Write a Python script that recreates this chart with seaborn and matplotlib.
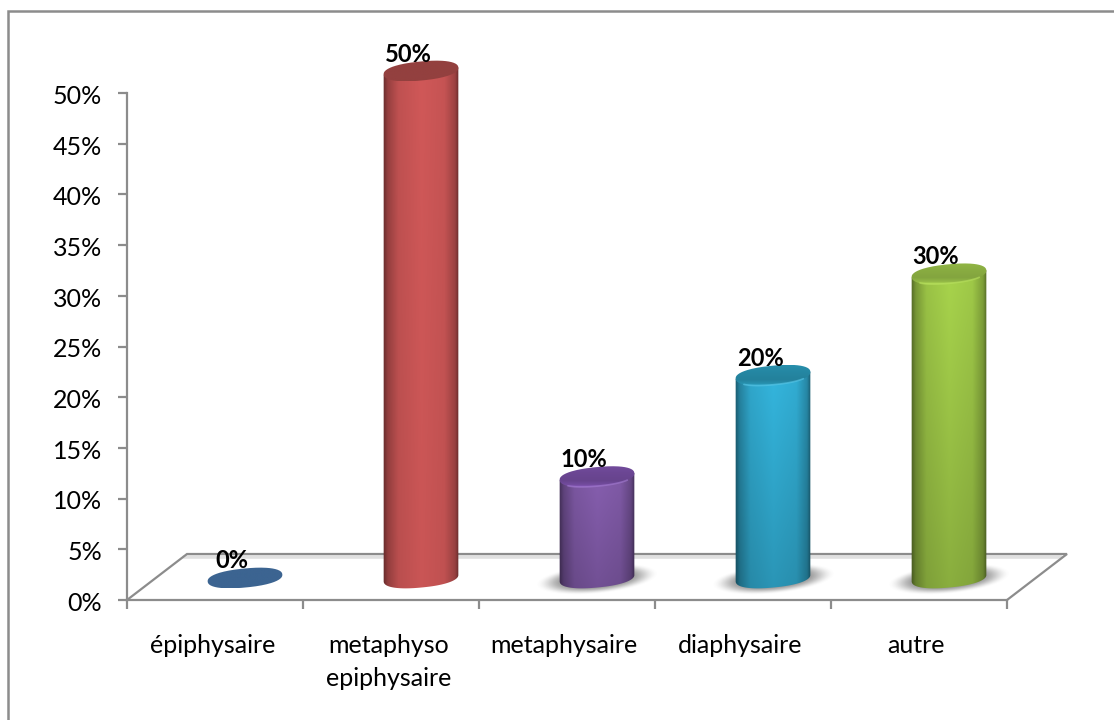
import numpy as np
import pandas as pd
import matplotlib
matplotlib.use("Agg")
import matplotlib.pyplot as plt
from matplotlib.lines import Line2D
from matplotlib.path import Path
from matplotlib.transforms import ScaledTranslation
import seaborn as sns

categories = ["épiphysaire", "metaphyso\nepiphysaire", "metaphysaire", "diaphysaire", "autre"]
values = [0, 50, 10, 20, 30]
bar_colors = ["#3c6491", "#d05858", "#875fb0", "#34b6de", "#a8d44c"]
cap_colors = ["#3c6491", "#93403f", "#694590", "#24849f", "#86a840"]
rim_colors = [None, None, "#a57dd2", "#5cc8e8", "#b9e15f"]
foot_shades = [1, 0.97, 0.84, 0.82, 0.82]
has_shadow = [False, False, True, True, True]
y_ticks = [0, 5, 10, 15, 20, 25, 30, 35, 40, 45, 50]

GRAY = "#8c8c8c"
W, H = 1114, 720
LEFT, RIGHT, TOP, BOTTOM = 127, 1007, 93, 600  # plot area in pixels
DEPTH_X, DEPTH_Y = 60, 46                       # oblique floor depth in pixels
A, B, TILT = 37.5, 9.5, np.deg2rad(5.5)          # cylinder cross-section ellipse

sns.set_theme(style="white")
plt.rcParams["font.family"] = ["Lato", "DejaVu Sans"]

fig = plt.figure(figsize=(W / 100, H / 100), dpi=100, facecolor="white")
ax = fig.add_axes([LEFT / W, 1 - BOTTOM / H, (RIGHT - LEFT) / W, (BOTTOM - TOP) / H])
ax.patch.set_alpha(0)

# Chart frame: only its top and left edges fall inside the figure
fig.add_artist(Line2D([1, 8 / W, 8 / W], [1 - 11 / H, 1 - 11 / H, 0],
                      transform=fig.transFigure, color=GRAY, lw=1.8, solid_joinstyle="miter"))

px_x = 5 / (RIGHT - LEFT)      # data units per horizontal pixel
px_y = 50 / (BOTTOM - TOP)     # data units per vertical pixel
shift = (DEPTH_X / 2) * px_x
base = 22 * px_y

frame = pd.DataFrame({"pos": np.arange(len(values)) + shift, "value": values, "cat": categories})
sns.barplot(data=frame, x="pos", y="value", hue="cat", hue_order=categories,
            palette=bar_colors, native_scale=True, dodge=False, width=2 * A * px_x,
            legend=False, ax=ax, clip_on=False, linewidth=0, zorder=3)


def ellipse_offsets(t, power=0.88):
    """Offsets of a tilted, slightly squared ellipse, in data units, for angles t."""
    c = np.sign(np.cos(t)) * np.abs(np.cos(t)) ** power
    s = np.sign(np.sin(t)) * np.abs(np.sin(t)) ** power
    dx = A * c * np.cos(TILT) - B * s * np.sin(TILT)
    dy = A * c * np.sin(TILT) + B * s * np.cos(TILT)
    return dx * px_x, dy * px_y


def draw_image(rgba, extent, clip_xy, zorder):
    im = ax.imshow(rgba, extent=extent, aspect="auto", origin="upper",
                   interpolation="bilinear", zorder=zorder)
    im.set_clip_box(fig.bbox)
    if clip_xy is not None:
        im.set_clip_path(Path(clip_xy), transform=ax.transData)


def rgb(color):
    return np.array(matplotlib.colors.to_rgb(color))


profile_pos = [0, .06, .2, .5, .8, .94, 1]
profile_val = [.5, .72, .92, 1, .95, .75, .45]
cap_pos = [0, .35, .7, .9, 1]
cap_val = [1.08, 1.02, .98, 1.1, 1.3]

bars = sorted(ax.patches, key=lambda p: p.get_x())
for i, patch in enumerate(bars):
    val = values[i]
    cx = patch.get_x() + patch.get_width() / 2
    patch.set_y(base)
    patch.set_visible(False)
    top = base + val

    # Soft shadow on the floor
    if has_shadow[i]:
        sa, sb = 62, 15
        gx, gy = np.meshgrid(np.linspace(-80, 80, 200), np.linspace(30, -30, 80))
        u = gx * np.cos(TILT) + gy * np.sin(TILT)
        v = -gx * np.sin(TILT) + gy * np.cos(TILT)
        r = np.sqrt((u / sa) ** 2 + ((v + 1) / sb) ** 2)
        s = np.clip((1 - r) / 0.5, 0, 1)
        img = np.ones((*r.shape, 4)) * 0.45
        img[..., 3] = 0.75 * s * s * (3 - 2 * s)
        draw_image(img, (cx - 80 * px_x, cx + 80 * px_x, base - 30 * px_y, base + 30 * px_y), None, 2)

    if val > 0:
        # Cylinder wall: horizontal shading, clipped to the rounded foot
        t = np.linspace(np.pi, 2 * np.pi, 60)
        ox, oy = ellipse_offsets(t)
        outline = np.vstack([[cx + ox[0], top + oy[0]],
                             np.column_stack([cx + ox, base + oy]),
                             [cx + ox[-1], top + oy[-1]]])
        shade_x = np.interp(np.linspace(0, 1, 120), profile_pos, profile_val)
        shade_y = np.linspace(1, foot_shades[i], 60)
        body = np.outer(shade_y, shade_x)[..., None] * rgb(bar_colors[i])
        draw_image(body, (cx - A * px_x * 1.02, cx + A * px_x * 1.02, base - B * 1.3 * px_y, top + 5 * px_y),
                   outline, 4)

    # Top cap with a soft highlight toward its front edge
    t = np.linspace(0, 2 * np.pi, 160)
    ox, oy = ellipse_offsets(t)
    cap_outline = np.column_stack([cx + ox, top + oy])
    shade = np.interp(np.linspace(0, 1, 40), cap_pos, cap_val) if rim_colors[i] else np.ones(40)
    cap = np.clip(shade[:, None, None] * rgb(cap_colors[i])[None, None, :], 0, 1)
    draw_image(cap, (cx - A * 1.1 * px_x, cx + A * 1.1 * px_x, top + oy.min(), top + oy.max()), cap_outline, 5)

    if rim_colors[i]:
        t = np.linspace(1.22 * np.pi, 1.78 * np.pi, 40)
        ox, oy = ellipse_offsets(t)
        ax.plot(cx + ox, top + oy, color=rim_colors[i], lw=1.2, alpha=0.6, clip_on=False,
                solid_capstyle="round", zorder=6)

    # Value label above the cap
    ax.text(cx - 13 * px_x, val + 39 * px_y, f"{val}%", ha="center", va="center",
            fontsize=17, fontweight="bold", color="black", clip_on=False, zorder=7)

# Oblique floor behind the bars
x0, x1 = -0.5, 4.5
dx, dy = DEPTH_X * px_x, DEPTH_Y * px_y
ax.plot([x0, x0 + dx, x1 + dx, x1], [0, dy, dy, 0], color=GRAY, lw=1.6, clip_on=False,
        zorder=1.5, solid_joinstyle="miter")
ax.plot([x0 + dx * 0.95, x1 + dx * 0.9], [dy - 3 * px_y] * 2, color="#e0e0e0", lw=2.6,
        clip_on=False, zorder=1.2)

ax.set_xlim(x0, x1)
ax.set_ylim(0, 50)
sns.despine(ax=ax, top=True, right=True)
for side in ("left", "bottom"):
    ax.spines[side].set_color(GRAY)
    ax.spines[side].set_linewidth(1.6)

ax.set_yticks(y_ticks)
ax.set_yticklabels([f"{v}%" for v in y_ticks])
ax.set_xticks(np.arange(0, 6) - 0.5)
ax.set_xticklabels([])
ax.set_xticks(np.arange(len(categories)) - 0.015, labels=categories, minor=True)
ax.tick_params(axis="y", left=True, length=6.5, width=1.6, color=GRAY, labelsize=18, labelcolor="black", pad=11.5)
ax.tick_params(axis="x", which="major", bottom=True, length=6.5, width=1.6, color=GRAY)
ax.tick_params(axis="x", which="minor", bottom=False, length=0, labelsize=18, labelcolor="black", pad=24.5)
nudge = ScaledTranslation(0, -1 / 72, fig.dpi_scale_trans)
for lab in ax.get_yticklabels():
    lab.set_transform(lab.get_transform() + nudge)
for lab in ax.get_xticklabels(minor=True):
    lab.set_linespacing(1.55)
ax.set_xlabel("")
ax.set_ylabel("")

fig.savefig("out.png", dpi=100, facecolor="white")
